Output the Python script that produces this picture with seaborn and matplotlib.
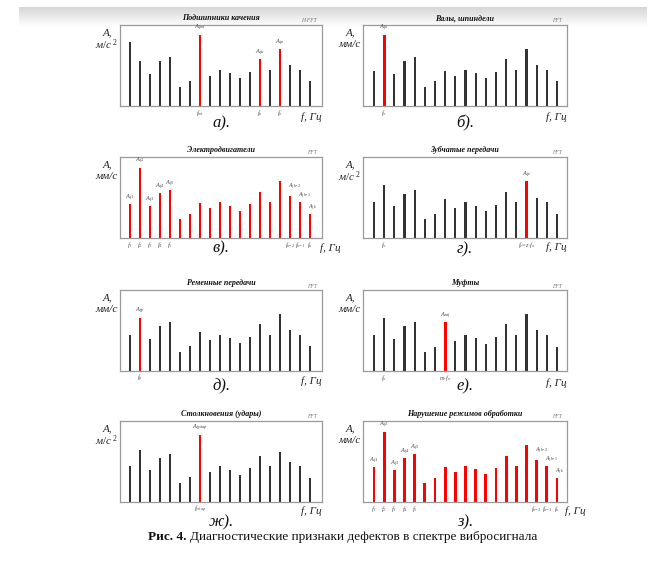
import numpy as np
import pandas as pd
import matplotlib
matplotlib.use("Agg")
import matplotlib.pyplot as plt
import seaborn as sns

sns.set_theme(style="white")
plt.rcParams['font.family'] = ['Liberation Serif', 'DejaVu Serif']
plt.rcParams['mathtext.fontset'] = 'custom'
plt.rcParams['mathtext.rm'] = 'Liberation Serif'
plt.rcParams['mathtext.it'] = 'Liberation Serif:italic'
plt.rcParams['mathtext.bf'] = 'Liberation Serif:bold'

# ---------------- data (amplitude, % of axis height) ----------------
vals_a = [79, 55, 39, 55, 60, 23, 31, 88, 37, 45, 41, 34, 42, 58, 45, 70, 51, 45, 31]
vals_b = [43, 88, 40, 55, 60, 23, 31, 43, 37, 45, 41, 34, 42, 58, 45, 70, 51, 45, 31]
vals_v = [42, 87, 39, 55, 59, 23, 30, 43, 37, 45, 40, 33, 42, 57, 45, 70, 52, 45, 30]
vals_g = [45, 65, 39, 54, 59, 23, 30, 48, 37, 45, 40, 33, 41, 57, 45, 70, 50, 45, 30]
vals_d = [45, 66, 40, 55, 60, 24, 31, 48, 38, 45, 41, 34, 42, 58, 45, 70, 51, 45, 31]
vals_e = [45, 65, 40, 55, 60, 23, 30, 60, 37, 45, 41, 33, 42, 58, 45, 70, 51, 45, 30]
vals_zh = [45, 64, 39, 54, 59, 23, 31, 83, 37, 45, 40, 33, 42, 57, 45, 62, 50, 45, 30]
vals_z = [43, 87, 39, 54, 59, 23, 30, 43, 37, 45, 41, 34, 42, 57, 45, 70, 52, 45, 30]

titles = ["Подшипники качения", "Валы, шпиндели", "Электродвигатели", "Зубчатые передачи",
          "Ременные передачи", "Муфты", "Столкновения (удары)", "Нарушение режимов обработки"]
panel_letters = ["а).", "б).", "в).", "г).", "д).", "е).", "ж).", "з)."]

all_red = list(range(19))
motor_peaks = {0: r'$A_{f1}$', 1: r'$A_{f2}$', 2: r'$A_{f3}$', 3: r'$A_{f4}$', 4: r'$A_{f5}$',
               16: r'$A_{fk\!-\!2}$', 17: r'$A_{fk\!-\!1}$', 18: r'$A_{fk}$'}
motor_ticks = {0: r'$f_1$', 1: r'$f_2$', 2: r'$f_3$', 3: r'$f_4$', 4: r'$f_5$',
               16: r'$f_{k\!-\!2}$', 17: r'$f_{k\!-\!1}$', 18: r'$f_k$'}

panels = [
    dict(vals=vals_a, reds=[7, 13, 15], fft="H-FFT", unit=r'$м/с^{\ 2}$',
         peaks={7: r'$A_{fвд}$', 13: r'$A_{fн}$', 15: r'$A_{fв}$'},
         ticks={7: r'$f_{вд}$', 13: r'$f_н$', 15: r'$f_в$'},
         col=0, top=25, xl=('right', -0.14), lab_y=123),
    dict(vals=vals_b, reds=[1], fft="FFT", unit='мм/с',
         peaks={1: r'$A_{fо}$'}, ticks={1: r'$f_о$'},
         col=1, top=25, xl=('right', -0.14), lab_y=123),
    dict(vals=vals_v, reds=all_red, fft="FFT", unit='мм/с',
         peaks=motor_peaks, ticks=motor_ticks,
         col=0, top=157, xl=('left', -0.12), lab_y=248),
    dict(vals=vals_g, reds=[15], fft="FFT", unit=r'$м/с^{\ 2}$',
         peaks={15: r'$A_{fz}$'}, ticks={1: r'$f_о$', 15: r'$f_z\!=\!z{\cdot}f_о$'},
         col=1, top=157, xl=('right', -0.11), lab_y=249),
    dict(vals=vals_d, reds=[1], fft="FFT", unit='мм/с',
         peaks={1: r'$A_{fр}$'}, ticks={1: r'$f_р$'},
         col=0, top=290, xl=('right', -0.12), lab_y=386),
    dict(vals=vals_e, reds=[7], fft="FFT", unit='мм/с',
         peaks={7: r'$A_{mf}$'}, ticks={1: r'$f_о$', 7: r'$m{\cdot}f_о$'},
         col=1, top=290, xl=('right', -0.15), lab_y=386),
    dict(vals=vals_zh, reds=[7], fft="FFT", unit=r'$м/с^{\ 2}$',
         peaks={7: r'$A_{fудар}$'}, ticks={7: r'$f_{удар}$'},
         col=0, top=421, xl=('right', -0.11), lab_y=522),
    dict(vals=vals_z, reds=all_red, fft="FFT", unit='мм/с',
         peaks=motor_peaks, ticks=motor_ticks,
         col=1, top=421, xl=('left', -0.11), lab_y=522),
]

W, H = 665, 581
fig = plt.figure(figsize=(W / 100, H / 100), dpi=100)
fig.patch.set_facecolor('white')

# top gray shadow band
band = fig.add_axes([19 / W, 1 - 27 / H, (647 - 19) / W, 20 / H])
grad = np.linspace(0.84, 1.0, 50).reshape(-1, 1)
band.imshow(grad, aspect='auto', cmap='gray', vmin=0, vmax=1, extent=[0, 1, 0, 1])
band.axis('off')

cols = {0: (120, 202, (-1.0, 19.2)), 1: (363, 204, (-1.08, 18.98))}
AX_H = 81
RED = '#ff0000'
BLK = '#333333'
k_offsets = {16: 3.0, 17: 0.3, 18: 0.3}

for i, p in enumerate(panels):
    left, width, xlim = cols[p['col']]
    ax = fig.add_axes([left / W, 1 - (p['top'] + AX_H) / H, width / W, AX_H / H])
    n = len(p['vals'])
    df = pd.DataFrame({'pos': np.arange(n), 'val': p['vals'],
                       'hl': ['red' if k in p['reds'] else 'black' for k in range(n)]})
    sns.barplot(data=df, x='pos', y='val', hue='hl', dodge=False, width=0.21,
                palette={'red': RED, 'black': BLK}, legend=False, ax=ax,
                linewidth=0, saturation=1)
    for patch in ax.patches:
        fc = patch.get_facecolor()
        if fc[0] > 0.9 and fc[1] < 0.1:
            cx = patch.get_x() + patch.get_width() / 2
            patch.set_width(0.28)
            patch.set_x(cx - 0.14)
    ax.set_xlim(*xlim)
    ax.set_ylim(0, 100)
    ax.set_xticks([])
    ax.set_yticks([])
    ax.set_xlabel('')
    ax.set_ylabel('')
    for s in ax.spines.values():
        s.set_visible(True)
        s.set_color('#9a9a9a')
        s.set_linewidth(0.9)

    # title and FFT mark
    ax.text(0.5, 1 + 7 / AX_H, titles[i], transform=ax.transAxes, ha='center', va='center',
            fontsize=5.8, fontweight='bold', style='italic', color='#111111')
    ax.text(1 - 5 / width, 1 + 4 / AX_H, p['fft'], transform=ax.transAxes, ha='right',
            va='center', fontsize=4, style='italic', color='#777777')

    # y label
    ax.text(-13 / width, 0.91, 'A,', transform=ax.transAxes, ha='center', va='center',
            fontsize=8, style='italic', color='#222222')
    ax.text(-13 / width, 0.76, p['unit'], transform=ax.transAxes, ha='center', va='center',
            fontsize=8, style='italic', color='#222222')

    # x label
    ha, yy = p['xl']
    xx = 1.0 if ha == 'right' else 1 - 2 / width
    ax.text(xx, yy, 'f, Гц', transform=ax.transAxes, ha=ha, va='center',
            fontsize=8, style='italic', color='#222222')

    # peak labels and frequency tick labels
    for k, lab in p['peaks'].items():
        if k >= 16 and len(p['reds']) == n:
            ax.annotate(lab, (k, p['vals'][k]), xytext=(-1.5, k_offsets[k]),
                        textcoords='offset points', ha='left', va='bottom',
                        fontsize=4.2, color='#444444')
        else:
            ax.annotate(lab, (k, p['vals'][k]), xytext=(0, 1), textcoords='offset points',
                        ha='center', va='bottom', fontsize=4.6, color='#444444')
    for k, lab in p['ticks'].items():
        ax.annotate(lab, (k, 0), xytext=(0, -1.5), textcoords='offset points',
                    ha='center', va='top', fontsize=4.6, color='#555555',
                    annotation_clip=False)

    # panel letter
    fig.text((left + width / 2) / W, 1 - p['lab_y'] / H, panel_letters[i], ha='center',
             va='center', fontsize=12, style='italic', color='#111111')

# caption
fig.text(187 / W, 1 - 537 / H, "Рис. 4.", ha='right', va='center', fontsize=9.5,
         fontweight='bold', color='#111111')
fig.text(190 / W, 1 - 537 / H, "Диагностические признаки дефектов в спектре вибросигнала",
         ha='left', va='center', fontsize=9.5, color='#111111')

fig.savefig('out.png', dpi=100, facecolor='white')
